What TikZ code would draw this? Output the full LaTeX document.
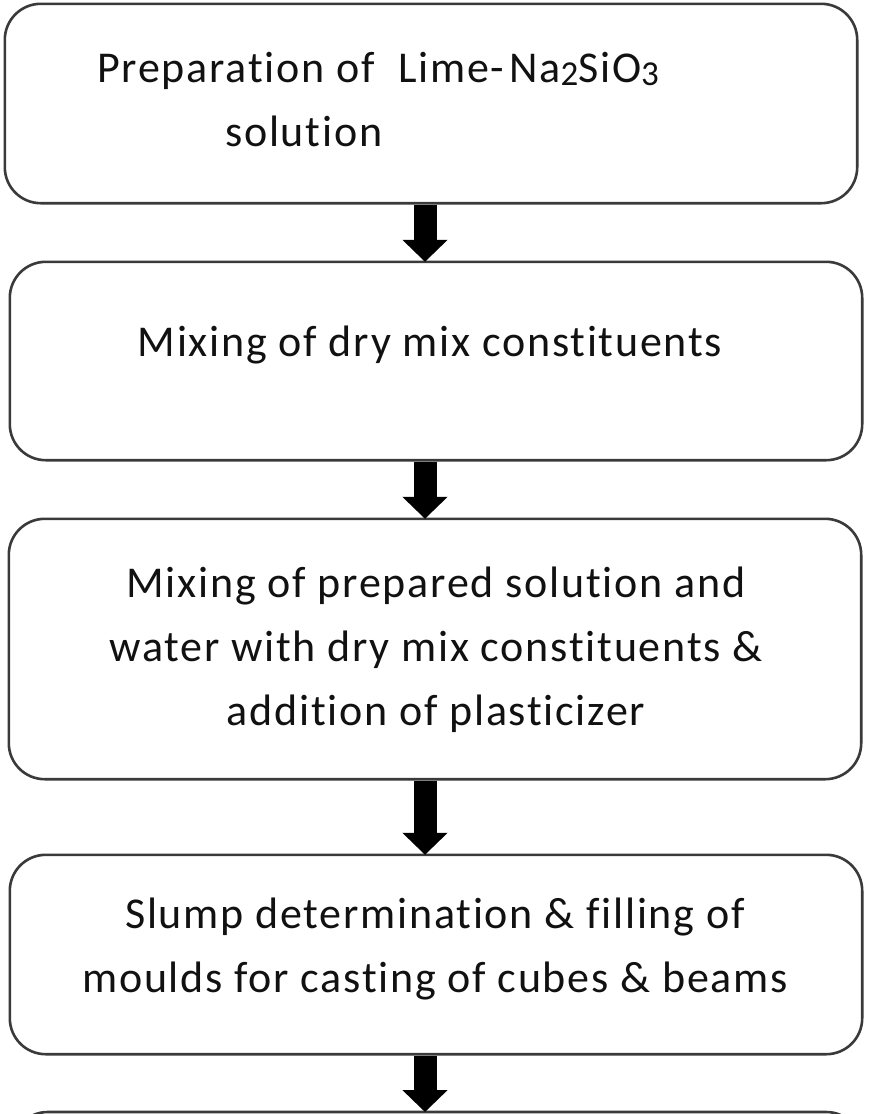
\documentclass[tikz,border=0pt]{standalone}
\usepackage{fontspec}
\setmainfont[Ligatures=NoCommon,LetterSpace=4]{Carlito}
\usetikzlibrary{arrows.meta}
\definecolor{boxline}{HTML}{3A3A3A}
\definecolor{txt}{HTML}{111111}
\tikzset{
  stepbox/.style={draw=boxline, line width=2.6pt, rounded corners=36pt, fill=white},
  steptext/.style={font=\fontsize{44}{64}\selectfont, text=txt, align=center, inner sep=0pt},
  flow/.style={line width=23pt, -{Triangle[width=44pt,length=22pt]}, black, shorten <=1.3pt}
}
\begin{document}
\begin{tikzpicture}[x=1pt,y=-1pt]
\useasboundingbox (0,0) rectangle (871,1114);
\clip (0,0) rectangle (871,1114);
\fill[white] (0,0) rectangle (871,1114);
% boxes
\node[minimum width=852pt, minimum height=199pt, inner sep=0pt] (b1) at (431,103.5) {};
\draw[stepbox] (b1.north west) rectangle (b1.south east);
\node[minimum width=852pt, minimum height=198pt, inner sep=0pt] (b2) at (436,361) {};
\draw[stepbox] (b2.north west) rectangle (b2.south east);
\node[minimum width=852pt, minimum height=260pt, inner sep=0pt] (b3) at (435,649) {};
\draw[stepbox] (b3.north west) rectangle (b3.south east);
\node[minimum width=852pt, minimum height=199pt, inner sep=0pt] (b4) at (436,954.5) {};
\draw[stepbox] (b4.north west) rectangle (b4.south east);
\node[minimum width=850pt, minimum height=200pt, inner sep=0pt, anchor=north] (b5) at (437,1112) {};
\draw[stepbox] (b5.north west) rectangle (b5.south east);
% texts
\node[steptext, align=left, anchor=west] (t1) at (97,100)
  {Preparation of\ \ Lime-\kern5pt Na{\raisebox{-3pt}{\fontsize{35}{35}\selectfont 2}}SiO{\raisebox{-3pt}{\fontsize{35}{35}\selectfont 3}}\\\hspace*{128pt}solution};
\node[steptext] (t2) at (430,345) {Mixing of dry mix constituents};
\node[steptext] (t3) at (436,650) {Mixing of prepared solution and\\water with dry mix constituents \&\\addition of plasticizer};
\node[steptext] (t4) at (435,949) {Slump determination \& filling of\\moulds for casting of cubes \& beams};
% arrows
\coordinate (ax) at (425,0);
\draw[flow] (b1.south -| ax) -- (b2.north -| ax);
\draw[flow] (b2.south -| ax) -- (b3.north -| ax);
\draw[flow] (b3.south -| ax) -- (b4.north -| ax);
\draw[flow] (b4.south -| ax) -- (b5.north -| ax);
\end{tikzpicture}
\end{document}
